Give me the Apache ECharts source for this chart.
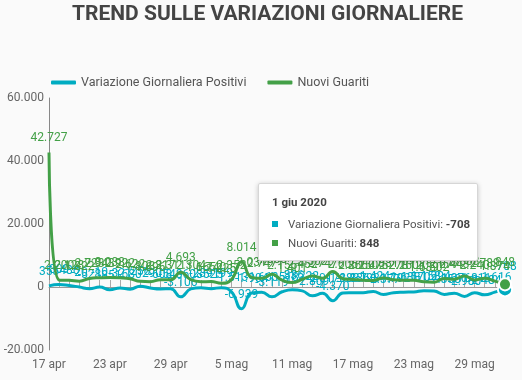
<!DOCTYPE html>
<html>
<head>
<meta charset="utf-8">
<script src="https://cdn.jsdelivr.net/npm/echarts@6/dist/echarts.min.js"></script>
<style>
html,body{margin:0;padding:0;background:#fafafa;}
#c{width:522px;height:380px;}
</style>
</head>
<body>
<div id="c"></div>
<script>
const categories = ["17 apr","18 apr","19 apr","20 apr","21 apr","22 apr","23 apr","24 apr","25 apr","26 apr","27 apr","28 apr","29 apr","30 apr",
"1 mag","2 mag","3 mag","4 mag","5 mag","6 mag","7 mag","8 mag","9 mag","10 mag","11 mag","12 mag","13 mag","14 mag","15 mag","16 mag","17 mag","18 mag","19 mag","20 mag","21 mag","22 mag","23 mag","24 mag","25 mag","26 mag","27 mag","28 mag","29 mag","30 mag","31 mag",
"1 giu"];
const variazionePositivi = [355,809,486,-20,-528,-10,-851,-321,-680,256,-290,-608,-548,-3106,
-608,-239,-525,-199,-1513,-6939,-1904,-1663,-3119,-1518,-836,-1222,-2809,-2017,-4370,-1883,-1836,-1798,-1424,-2377,-1792,-1638,-1570,-1158,-1294,-2358,-1976,-2980,-1811,-2484,-1616,
-708];
const nuoviGuariti = [42727,2200,2128,1822,2723,2943,3033,2922,2622,1808,1696,2317,2311,4693,
2304,1665,1740,1225,2352,8014,3031,2747,4008,2155,1401,2452,3502,2747,4917,2605,2366,2150,2075,2881,2278,2160,2120,1639,1502,2677,2443,3503,2240,2789,1874,
848];
const yTicks = {min:-20000, max:60000, interval:20000};
const seriesNames = ["Variazione Giornaliera Positivi","Nuovi Guariti"];
const colors = ["#00acc1","#43a047"];
const tooltipYear = "2020";

function fmt(v){
  const s = String(Math.abs(v)).replace(/\B(?=(\d{3})+(?!\d))/g,'.');
  return (v<0?'-':'')+s;
}
const last = categories.length-1;
function buildData(arr, size){
  return arr.map((v,i)=> i===last ? {value:v, symbolSize:size, itemStyle:{borderColor:'#fff',borderWidth:2}} : v);
}
const font = 'Roboto';
const chart = echarts.init(document.getElementById('c'), null, {renderer:'canvas'});
chart.setOption({
  backgroundColor:'#fafafa',
  animation:false,
  color:colors,
  title:{text:'TREND SULLE VARIAZIONI GIORNALIERE', left:67, top:-1,
    textStyle:{fontFamily:font, fontWeight:'bold', fontSize:21, color:'#444'}},
  legend:{left:46, top:71, icon:'roundRect', itemWidth:25, itemHeight:4, itemGap:21,
    textStyle:{fontFamily:font, fontSize:12.5, color:'#555'}, data:seriesNames},
  grid:{left:49, right:17, top:98, bottom:30},
  tooltip:{trigger:'axis', axisPointer:{type:'none'}, alwaysShowContent:true, position:[258,183],
    backgroundColor:'#fff', borderColor:'#d6d6d6', borderWidth:1, padding:[10,12,7,13],
    extraCssText:'box-shadow:0 1px 5px rgba(0,0,0,0.22);border-radius:2px;width:193px;',
    formatter:function(params){
      let h = '<div style="font:bold 11.5px Roboto;color:#444;margin-bottom:6px;margin-top:1px">'+params[0].name+' '+tooltipYear+'</div>';
      params.forEach(p=>{
        h += '<div style="font:11.5px Roboto;color:#555;line-height:19px;white-space:nowrap"><span style="display:inline-block;width:6px;height:6px;background:'+p.color+';margin-right:10px;vertical-align:middle;position:relative;top:-1px"></span>'+p.seriesName+': <b style="color:#444">'+fmt(p.value)+'</b></div>';
      });
      return h;
    }},
  xAxis:[{
    type:'category', data:categories, boundaryGap:false, position:'bottom',
    axisLine:{show:false, onZero:false}, axisTick:{show:false},
    axisLabel:{interval:5, fontFamily:font, fontSize:12, color:'#666', margin:9}
  },{
    type:'category', data:categories, boundaryGap:false, position:'bottom',
    axisLine:{show:true, onZero:true, lineStyle:{color:'#999', width:1}},
    axisTick:{show:true, inside:true, length:7, interval:0, lineStyle:{color:'#aaa'}},
    axisLabel:{show:false}
  }],
  yAxis:{type:'value', min:yTicks.min, max:yTicks.max, interval:yTicks.interval,
    axisLine:{show:true, lineStyle:{color:'#888'}}, axisTick:{show:false}, splitLine:{show:false},
    axisLabel:{fontFamily:font, fontSize:12, color:'#666', margin:5, formatter:fmt}},
  series:[{
    name:seriesNames[0], type:'line', smooth:0.5, xAxisIndex:0, showAllSymbol:true,
    data:buildData(variazionePositivi,13), symbol:'circle', symbolSize:0,
    lineStyle:{width:3, color:colors[0]}, itemStyle:{color:colors[0]},
    label:{show:true, position:'top', distance:8, color:colors[0], fontFamily:font, fontSize:12, formatter:p=>fmt(p.value)},
    labelLayout:{hideOverlap:false},
    emphasis:{disabled:true}, z:2
  },{
    name:seriesNames[1], type:'line', smooth:0.5, xAxisIndex:0, showAllSymbol:true,
    data:buildData(nuoviGuariti,11), symbol:'circle', symbolSize:0,
    lineStyle:{width:3, color:colors[1]}, itemStyle:{color:colors[1]},
    label:{show:true, position:'top', distance:8, color:colors[1], fontFamily:font, fontSize:12, formatter:p=>fmt(p.value)},
    labelLayout:{hideOverlap:false},
    emphasis:{disabled:true}, z:3
  }]
});
chart.dispatchAction({type:'showTip', seriesIndex:0, dataIndex:last});
</script>
</body>
</html>
